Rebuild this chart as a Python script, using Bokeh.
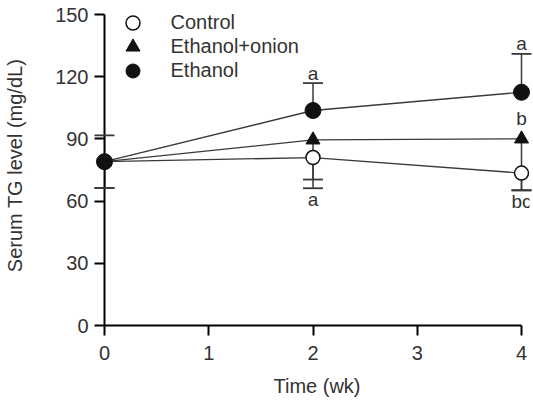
from bokeh.plotting import figure
from bokeh.models import (LinearAxis, Range1d, FixedTicker, Legend, LegendItem,
                          ColumnDataSource)
from bokeh.core.properties import value
from bokeh.embed import file_html
from bokeh.resources import INLINE

# Serum triglyceride levels (mg/dL) over the feeding period
weeks = [0, 2, 4]
control = [79.0, 81.0, 73.5]
control_err = [12.7, 10.6, 8.4]
onion = [79.0, 89.5, 90.0]
onion_err = [12.7, 23.3, 24.7]
ethanol = [79.0, 103.7, 112.5]
ethanol_err = [12.7, 13.2, 18.5]

x_ticks = [0, 1, 2, 3, 4]
y_ticks = [0, 30, 60, 90, 120, 150]

FONT = "Liberation Sans"
TXT = "#333333"
INK = "#111111"
LINE = "#3a3a3a"

W, H = 533, 406
L, R, T, B = 104, 4, 5, 81
px_per_wk = 104.25
px_per_unit = 311 / 150          # 0 -> 325 px, 150 -> 14 px
x_end = (W - R - L) / px_per_wk
y_end = 150 + (14 - T) / px_per_unit

p = figure(width=W, height=H, output_backend="svg", toolbar_location=None,
           x_range=Range1d(0, x_end), y_range=Range1d(0, y_end),
           x_axis_type=None, y_axis_type=None,
           min_border_left=L, min_border_right=R, min_border_top=T,
           min_border_bottom=B)
p.outline_line_color = None
p.grid.visible = False
p.background_fill_color = "white"
p.border_fill_color = "white"


def style_axis(ax):
    ax.axis_line_color = "#000000"
    ax.axis_line_width = 2
    ax.major_tick_line_color = "#000000"
    ax.major_tick_line_width = 2
    ax.major_tick_in = 0
    ax.major_tick_out = 10
    ax.minor_tick_line_color = None
    ax.major_label_text_font = FONT
    ax.major_label_text_font_size = "20px"
    ax.major_label_text_color = TXT
    ax.axis_label_text_font = FONT
    ax.axis_label_text_font_size = "20px"
    ax.axis_label_text_font_style = "normal"
    ax.axis_label_text_color = TXT


xaxis = LinearAxis(ticker=FixedTicker(ticks=x_ticks), axis_label="Time (wk)")
style_axis(xaxis)
xaxis.bounds = (0, 4)
xaxis.major_label_standoff = 10
xaxis.axis_label_standoff = 12
p.add_layout(xaxis, "below")

yaxis = LinearAxis(ticker=FixedTicker(ticks=y_ticks),
                   axis_label="Serum TG level (mg/dL)")
style_axis(yaxis)
yaxis.bounds = (0, 150)
yaxis.major_label_standoff = 6
yaxis.axis_label_standoff = 26
p.add_layout(yaxis, "left")

# connecting lines
p.line(weeks, control, line_color=LINE, line_width=1.3)
p.line(weeks, onion, line_color=LINE, line_width=1.3)
p.line(weeks, ethanol, line_color=LINE, line_width=1.3)

# error bars: ethanol upward, control and ethanol+onion downward
eth_hi = [v + e for v, e in zip(ethanol, ethanol_err)]
ctl_lo = [v - e for v, e in zip(control, control_err)]
oni_lo = [v - e for v, e in zip(onion, onion_err)]

# markers and caps sit on the y axis at week 0, so draw them on the
# overlay level where they are not cut at the frame edge
for base, ends in ((ethanol, eth_hi), (control, ctl_lo), (onion, oni_lo)):
    p.segment(x0=weeks, y0=base, x1=weeks, y1=ends, line_color=LINE,
              line_width=1.5)
    p.scatter(weeks, ends, marker="dash", size=20, line_color=LINE,
              line_width=1.8, level="overlay")

r_ctl = p.scatter(weeks, control, marker="circle", size=14,
                  fill_color="white", line_color=INK, line_width=1.5,
                  level="overlay")
r_oni = p.scatter(weeks, onion, marker="triangle", size=14,
                  fill_color=INK, line_color=INK, level="overlay")
r_eth = p.scatter(weeks, ethanol, marker="circle", size=16,
                  fill_color=INK, line_color=INK, level="overlay")

# significance letters
letter_style = dict(text_align="center", text_baseline="middle",
                    text_font_size="19px", text_color=TXT,
                    text_font=value(FONT))

top_idx = [1, 2]
src_top = ColumnDataSource(dict(x=[weeks[i] for i in top_idx],
                                y=[eth_hi[i] for i in top_idx],
                                t=["a", "a"]))
p.text(x="x", y="y", text="t", source=src_top, y_offset=-10, **letter_style)

src_b = ColumnDataSource(dict(x=[weeks[2]], y=[onion[2]], t=["b"]))
p.text(x="x", y="y", text="t", source=src_b, y_offset=-20, **letter_style)

low_ends = [min(c, o) for c, o in zip(ctl_lo, oni_lo)]
src_low = ColumnDataSource(dict(x=[weeks[1], weeks[2]],
                                y=[low_ends[1], low_ends[2]],
                                t=["a", "bc"]))
p.text(x="x", y="y", text="t", source=src_low, y_offset=11, **letter_style)

# legend: one entry per box so the rows sit close together
entries = [("Control", r_ctl), ("Ethanol+onion", r_oni), ("Ethanol", r_eth)]
box = 35
row_centers = [22, 46, 70]
frame_bottom = H - B
for (label, rend), yc in zip(entries, row_centers):
    lg = Legend(items=[LegendItem(label=label, renderers=[rend])],
                location=(114.5 - L, frame_bottom - yc - box / 2))
    lg.border_line_color = None
    lg.background_fill_alpha = 0
    lg.padding = 0
    lg.margin = 0
    lg.spacing = 0
    lg.glyph_width = box
    lg.glyph_height = box
    lg.label_standoff = 21
    lg.label_text_font = FONT
    lg.label_text_font_size = "20px"
    lg.label_text_color = TXT
    lg.label_height = 24
    p.add_layout(lg, "center")

open("out.html", "w").write(file_html(p, INLINE))
